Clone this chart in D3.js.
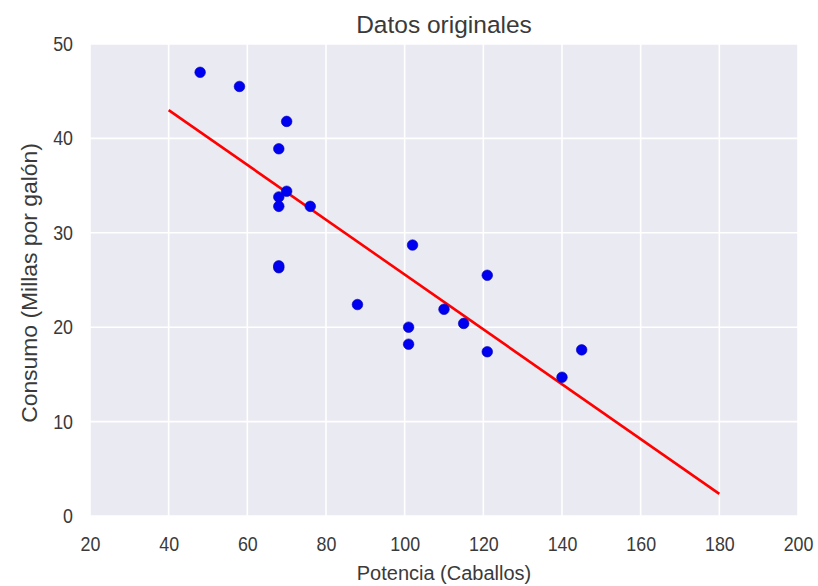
<!DOCTYPE html>
<html>
<head>
<meta charset="utf-8">
<script src="https://cdn.jsdelivr.net/npm/d3@7"></script>
<style>
  html, body { margin: 0; padding: 0; background: #ffffff; }
  svg { display: block; font-family: "Liberation Sans", Arial, sans-serif; }
</style>
</head>
<body>
<svg id="chart" width="818" height="586"></svg>
<script>
// ---- data ----
const potencia = [48, 58, 70, 68, 70, 68, 68, 76, 68, 68, 102, 88, 110, 101, 101, 121, 115, 121, 140, 145];
const consumo  = [47.0, 45.5, 41.8, 38.9, 34.4, 33.8, 32.8, 32.8, 26.3, 26.5, 28.7, 22.4, 21.9, 20.0, 18.2, 25.5, 20.4, 17.4, 14.7, 17.6];
const lineX = [40, 180];
const lineY = [43.0, 2.35];
const xTicks = [20, 40, 60, 80, 100, 120, 140, 160, 180, 200];
const yTicks = [0, 10, 20, 30, 40, 50];
const titleText = "Datos originales";
const xLabel = "Potencia (Caballos)";
const yLabel = "Consumo (Millas por galón)";

(function () {
// ---- layout ----
const svg = d3.select("#chart");
const pL = 90, pR = 798, pT = 44, pB = 516;
const sx = 0.87; // horizontal squeeze of tick labels

const x = d3.scaleLinear().domain([20, 200]).range([pL, pR]);
const y = d3.scaleLinear().domain([0, 50]).range([pB, pT]);

// background
svg.append("rect")
  .attr("x", pL).attr("y", pT)
  .attr("width", pR - pL).attr("height", pB - pT)
  .attr("fill", "#eaeaf2");

// grid
svg.append("g").selectAll("line").data(xTicks).join("line")
  .attr("x1", d => x(d)).attr("x2", d => x(d))
  .attr("y1", pT).attr("y2", pB)
  .attr("stroke", "#ffffff").attr("stroke-width", 1.6);
svg.append("g").selectAll("line").data(yTicks).join("line")
  .attr("y1", d => y(d)).attr("y2", d => y(d))
  .attr("x1", pL).attr("x2", pR)
  .attr("stroke", "#ffffff").attr("stroke-width", 1.6);

// axes (text only)
const xAxis = svg.append("g")
  .attr("transform", `translate(0,${pB})`)
  .call(d3.axisBottom(x).tickValues(xTicks).tickSize(0).tickPadding(20).tickFormat(d3.format("d")));
xAxis.select(".domain").remove();
xAxis.selectAll("text").attr("font-size", 20.5).attr("fill", "#3a3a3a")
  .attr("font-family", "Liberation Sans, Arial, sans-serif")
  .attr("transform", `scale(${sx},1)`);

const yAxis = svg.append("g")
  .attr("transform", `translate(${pL},0)`)
  .call(d3.axisLeft(y).tickValues(yTicks).tickSize(0).tickPadding(17).tickFormat(d3.format("d")));
yAxis.select(".domain").remove();
yAxis.selectAll("text").attr("font-size", 20.5).attr("fill", "#3a3a3a")
  .attr("font-family", "Liberation Sans, Arial, sans-serif")
  .attr("x", -17 / sx)
  .attr("transform", `scale(${sx},1)`);

// regression line
svg.append("path")
  .datum(lineX.map((d, i) => [d, lineY[i]]))
  .attr("d", d3.line().x(d => x(d[0])).y(d => y(d[1])))
  .attr("fill", "none")
  .attr("stroke", "#ff0000")
  .attr("stroke-width", 2.6);

// points
svg.append("g").selectAll("circle").data(potencia.map((d, i) => [d, consumo[i]])).join("circle")
  .attr("cx", d => x(d[0])).attr("cy", d => y(d[1]))
  .attr("r", 5.3)
  .attr("fill", "#0000f0")
  .attr("stroke", "#0000b0").attr("stroke-width", 0.6);

// title & labels
svg.append("text")
  .attr("x", (pL + pR) / 2).attr("y", 33)
  .attr("text-anchor", "middle")
  .attr("font-size", 24.5).attr("fill", "#3a3a3a")
  .text(titleText);

svg.append("text")
  .attr("x", (pL + pR) / 2).attr("y", 580)
  .attr("text-anchor", "middle")
  .attr("font-size", 20).attr("fill", "#3a3a3a")
  .text(xLabel);

svg.append("text")
  .attr("transform", `translate(37,283) rotate(-90) scale(1.065,1)`)
  .attr("text-anchor", "middle")
  .attr("font-size", 21.5).attr("fill", "#3a3a3a")
  .text(yLabel);
})();
</script>
</body>
</html>
